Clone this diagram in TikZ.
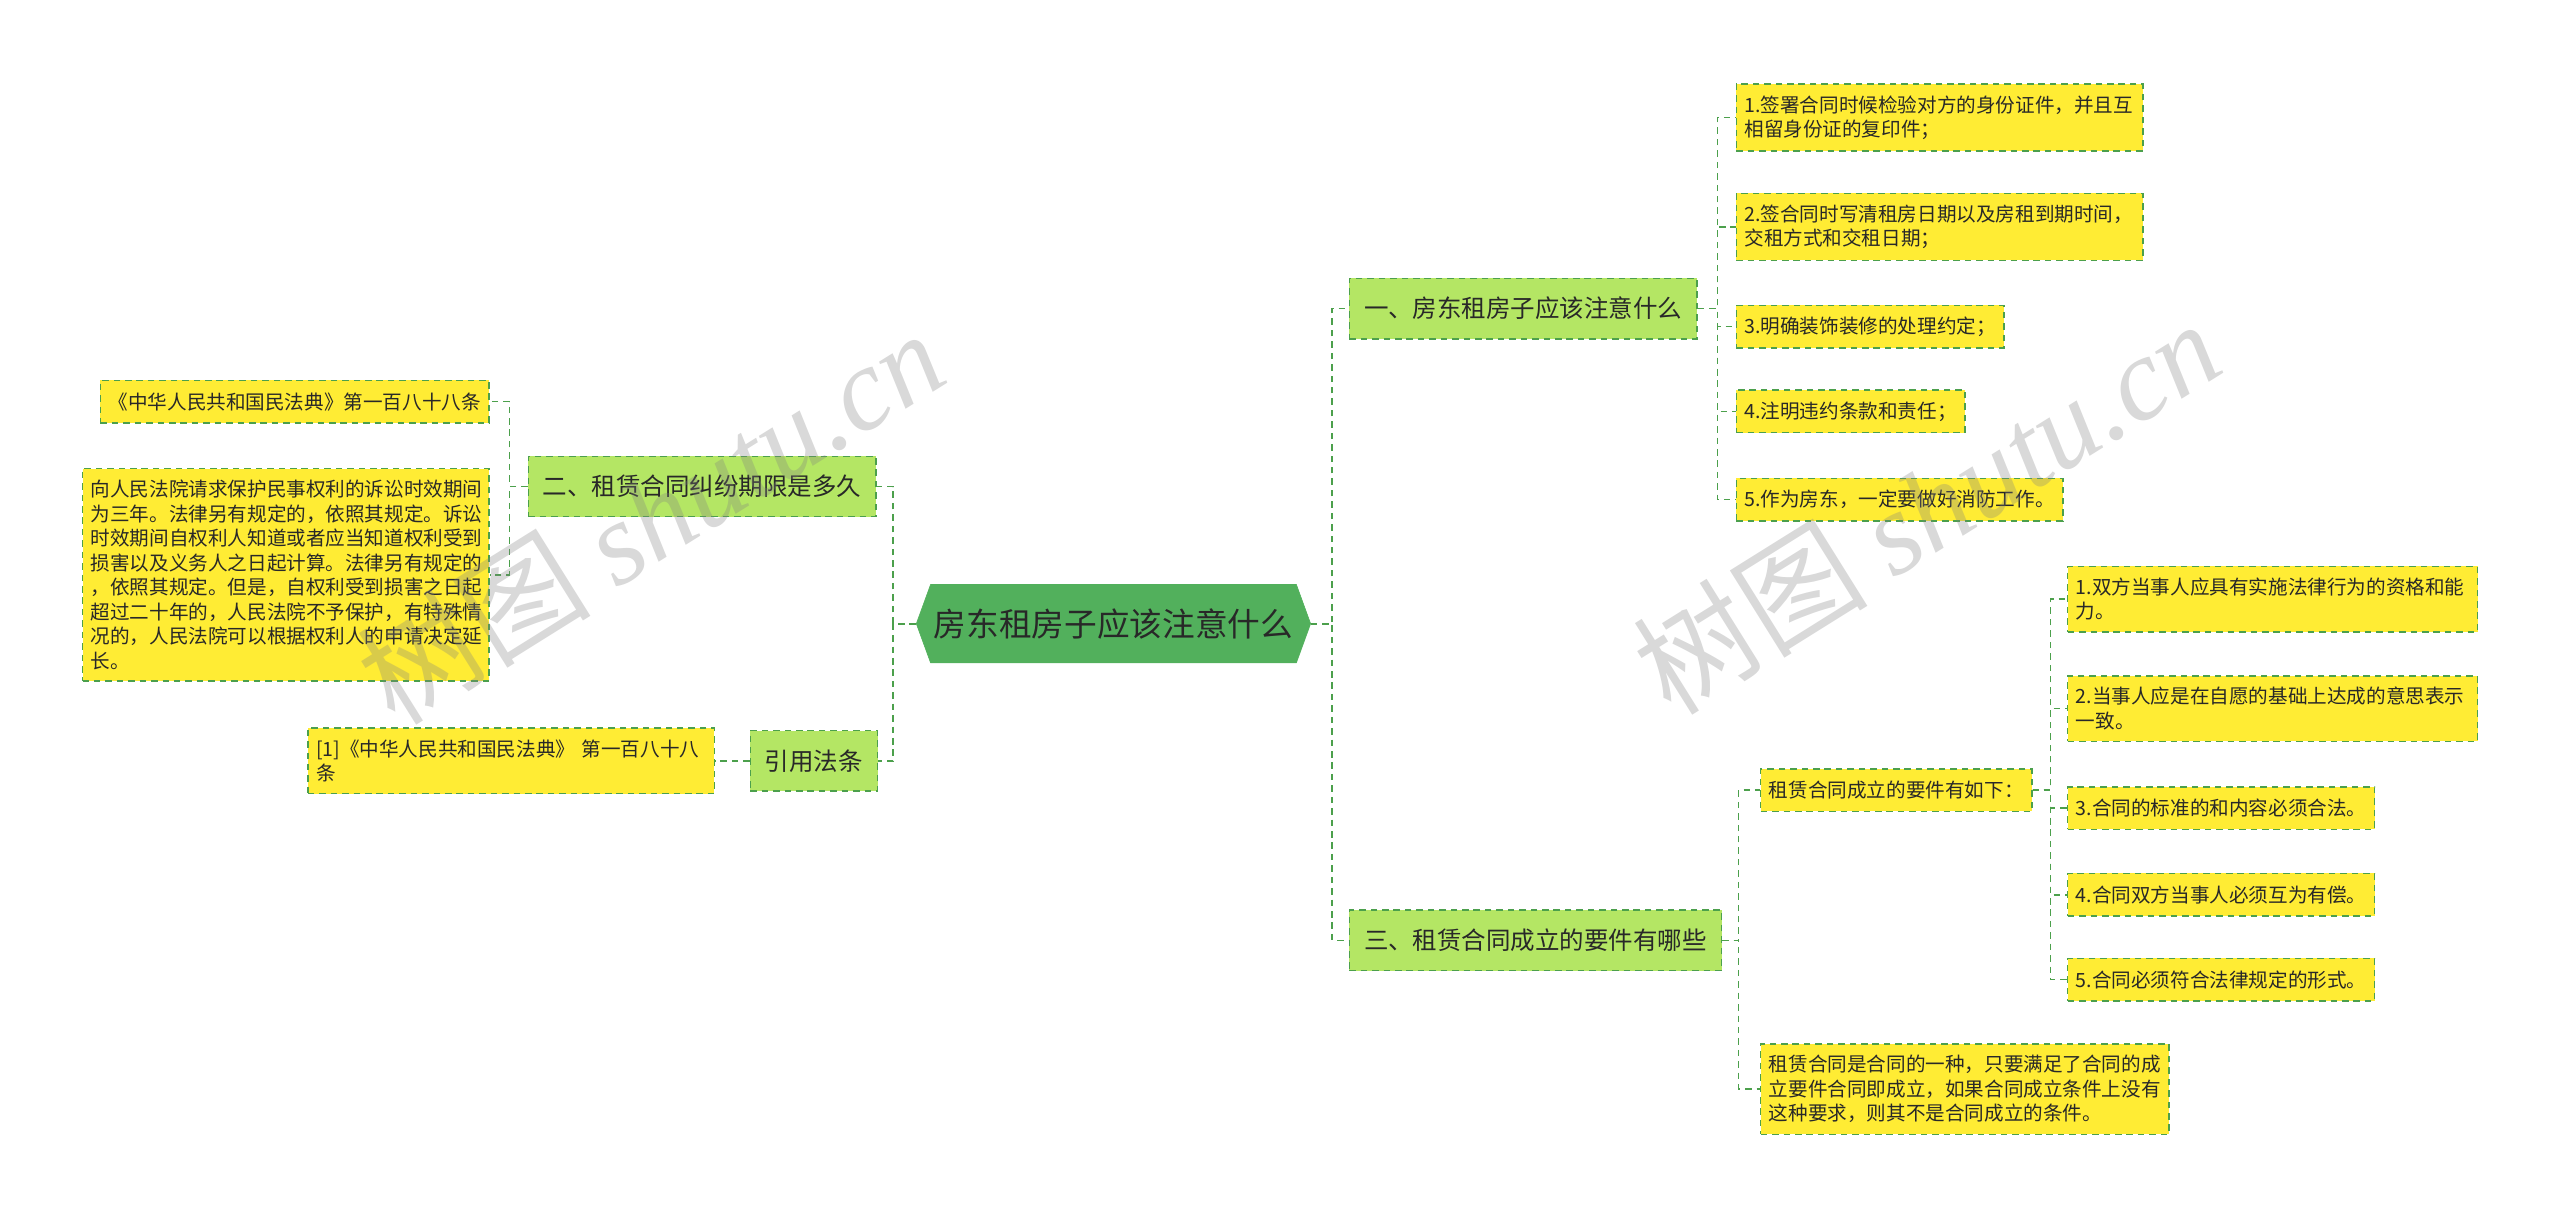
\documentclass[tikz,border=0pt]{standalone}
\usepackage{fontspec}
\usepackage{tikz}
\usetikzlibrary{shapes.symbols, positioning}
\newfontfamily\cjk{Noto Sans CJK SC}
\newfontfamily\wmfont{Liberation Serif}
\definecolor{RootGreen}{RGB}{82, 176, 92}
\definecolor{TopicGreen}{RGB}{180, 230, 100}
\definecolor{NoteYellow}{RGB}{255, 236, 52}
\definecolor{LineGreen}{RGB}{76, 160, 76}
\definecolor{TextGray}{RGB}{40, 40, 40}
\tikzset{
    root/.style={signal, signal to=east and west, signal pointer angle=140, draw=RootGreen, fill=RootGreen, minimum height=48pt, inner xsep=2pt, font=\cjk\fontsize{20}{24}\selectfont, text=TextGray},
    topic/.style={rectangle, draw=LineGreen, dash pattern=on 4pt off 3pt, line width=0.9pt, fill=TopicGreen, minimum height=37pt, inner xsep=9pt, font=\cjk\fontsize{15}{18}\selectfont, text=TextGray},
    note/.style={rectangle, draw=LineGreen, dash pattern=on 4pt off 3pt, line width=0.9pt, fill=NoteYellow, minimum height=26pt, inner xsep=5pt, inner ysep=7pt, align=left, font=\cjk\fontsize{12}{15}\selectfont, text=TextGray},
    link/.style={draw=LineGreen, dash pattern=on 4pt off 3pt, line width=1pt},
    wmark/.style={text=gray, opacity=0.3, font=\cjk\fontsize{72}{78}\selectfont}
}
\begin{document}
\begin{tikzpicture}[x=1pt, y=-1pt]
\useasboundingbox (0,0) rectangle (1568,748);

\node[root] (root) at (682,382) {房东租房子应该注意什么};

% left side
\node[topic, anchor=east] (lim) at (537,298) {二、租赁合同纠纷期限是多久};
\node[note, anchor=east] (code) at (300,246) {《中华人民共和国民法典》第一百八十八条};
\node[note, anchor=east, text width=239pt] (term) at (300,352) {向人民法院请求保护民事权利的诉讼时效期间\\为三年。法律另有规定的，依照其规定。诉讼\\时效期间自权利人知道或者应当知道权利受到\\损害以及义务人之日起计算。法律另有规定的\\，依照其规定。但是，自权利受到损害之日起\\超过二十年的，人民法院不予保护，有特殊情\\况的，人民法院可以根据权利人的申请决定延\\长。};
\node[topic, anchor=east] (cite) at (538,466) {引用法条};
\node[note, anchor=east, text width=239pt] (ref) at (438,466) {[1]《中华人民共和国民法典》 第一百八十八\\条};

% right side
\node[topic, anchor=west] (tip) at (826,189) {一、房东租房子应该注意什么};
\node[note, anchor=west, text width=239pt] (t1) at (1063,72) {1.签署合同时候检验对方的身份证件，并且互\\相留身份证的复印件；};
\node[note, anchor=west, text width=239pt] (t2) at (1063,139) {2.签合同时写清租房日期以及房租到期时间，\\交租方式和交租日期；};
\node[note, anchor=west] (t3) at (1063,200) {3.明确装饰装修的处理约定；};
\node[note, anchor=west] (t4) at (1063,252) {4.注明违约条款和责任；};
\node[note, anchor=west] (t5) at (1063,306) {5.作为房东，一定要做好消防工作。};

\node[topic, anchor=west] (req) at (826,576) {三、租赁合同成立的要件有哪些};
\node[note, anchor=west] (cond) at (1078,484) {租赁合同成立的要件有如下：};
\node[note, anchor=west, text width=241pt] (c1) at (1266,367) {1.双方当事人应具有实施法律行为的资格和能\\力。};
\node[note, anchor=west, text width=241pt] (c2) at (1266,434) {2.当事人应是在自愿的基础上达成的意思表示\\一致。};
\node[note, anchor=west] (c3) at (1266,495) {3.合同的标准的和内容必须合法。};
\node[note, anchor=west] (c4) at (1266,548) {4.合同双方当事人必须互为有偿。};
\node[note, anchor=west] (c5) at (1266,600) {5.合同必须符合法律规定的形式。};
\node[note, anchor=west, text width=240pt] (expl) at (1078,667) {租赁合同是合同的一种，只要满足了合同的成\\立要件合同即成立，如果合同成立条件上没有\\这种要求，则其不是合同成立的条件。};

% connectors
\draw[link] (root.east) -- ++(13,0) |- (tip.west);
\draw[link] (root.east) -- ++(13,0) |- (req.west);
\draw[link] (root.west) -- ++(-14,0) |- (lim.east);
\draw[link] (root.west) -- ++(-14,0) |- (cite.east);
\draw[link] (lim.west) -- ++(-11,0) |- (code.east);
\draw[link] (lim.west) -- ++(-11,0) |- (term.east);
\draw[link] (cite.west) -- (ref.east);
\foreach \n in {t1,t2,t3,t4,t5}
    \draw[link] (tip.east) -- ++(12,0) |- (\n.west);
\foreach \n in {cond,expl}
    \draw[link] (req.east) -- ++(10,0) |- (\n.west);
\foreach \n in {c1,c2,c3,c4,c5}
    \draw[link] (cond.east) -- ++(11,0) |- (\n.west);

% watermarks
\node[wmark, rotate=32] (wmleft) at (398,316) {树图 {\wmfont\itshape shutu.cn}};
\node[wmark, rotate=32] (wmright) at (1180,310) {树图 {\wmfont\itshape shutu.cn}};
\end{tikzpicture}
\end{document}
